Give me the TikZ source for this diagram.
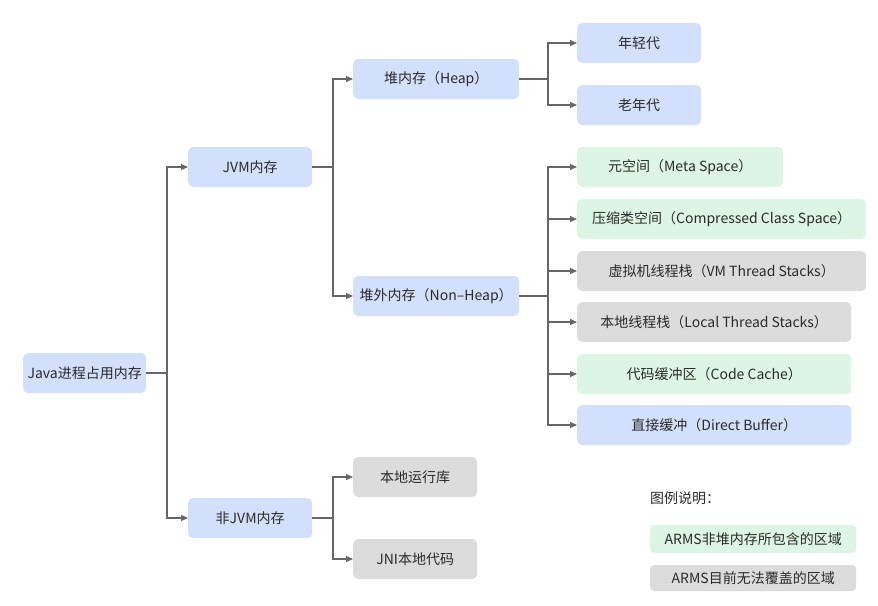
\documentclass[tikz,border=0pt]{standalone}
\usepackage{fontspec}
\setmainfont{Noto Sans CJK SC}
\usetikzlibrary{arrows.meta}
\definecolor{bluebox}{HTML}{D3E0FC}
\definecolor{greenbox}{HTML}{DCF5E4}
\definecolor{graybox}{HTML}{DCDCDC}
\definecolor{txt}{HTML}{2A2A2A}
\definecolor{ln}{HTML}{666666}
\tikzset{
  box/.style={rounded corners=5pt, minimum height=40pt, inner sep=0pt, text=txt, font=\fontsize{14}{16}\selectfont, anchor=west},
  bl/.style={box, fill=bluebox},
  gr/.style={box, fill=greenbox},
  gy/.style={box, fill=graybox},
  conn/.style={draw=ln, line width=1.1pt, -{Triangle[length=7pt,width=6pt]}},
  plain/.style={draw=ln, line width=1.1pt},
}
\begin{document}
\begin{tikzpicture}[x=1pt,y=-1pt]
\useasboundingbox (0,0) rectangle (878,605);
% level 0
\node[bl, minimum width=123pt] (root) at (23,373) {Java进程占用内存};
% level 1
\node[bl, minimum width=124pt] (jvm) at (188,167) {JVM内存};
\node[bl, minimum width=124pt] (nonjvm) at (188,518) {非JVM内存};
% level 2
\node[bl, minimum width=166pt] (heap) at (353,79) {堆内存（Heap）};
\node[bl, minimum width=166pt] (nonheap) at (353,296) {堆外内存（Non–Heap）};
\node[gy, minimum width=124pt] (native) at (353,477) {本地运行库};
\node[gy, minimum width=124pt] (jni) at (353,559) {JNI本地代码};
% level 3
\node[bl, minimum width=124pt] (young) at (577,43) {年轻代};
\node[bl, minimum width=124pt] (old) at (577,105) {老年代};
\node[gr, minimum width=206pt] (meta) at (577,167) {元空间（Meta Space）};
\node[gr, minimum width=289pt] (ccs) at (577,219) {压缩类空间（Compressed Class Space）};
\node[gy, minimum width=289pt] (vmts) at (577,271) {虚拟机线程栈（VM Thread Stacks）};
\node[gy, minimum width=274pt] (lts) at (577,322) {本地线程栈（Local Thread Stacks）};
\node[gr, minimum width=274pt] (cc) at (577,374) {代码缓冲区（Code Cache）};
\node[bl, minimum width=274pt] (db) at (577,425) {直接缓冲（Direct Buffer）};
% legend
\node[anchor=west, text=txt, font=\fontsize{14}{16}\selectfont, inner sep=0pt] (legtitle) at (650,498) {图例说明：};
\node[gr, minimum width=206pt, minimum height=28pt, rounded corners=4pt] (leg1) at (650,539) {ARMS非堆内存所包含的区域};
\node[gy, minimum width=206pt, minimum height=26pt, rounded corners=4pt] (leg2) at (650,578) {ARMS目前无法覆盖的区域};
% connectors
\coordinate (t0) at (167,373);
\draw[plain] (root.east) -- (t0);
\draw[conn] (t0) |- (jvm.west);
\draw[conn] (t0) |- (nonjvm.west);
\coordinate (t1) at (333,167);
\draw[plain] (jvm.east) -- (t1);
\draw[conn] (t1) |- (heap.west);
\draw[conn] (t1) |- (nonheap.west);
\coordinate (t2) at (333,518);
\draw[plain] (nonjvm.east) -- (t2);
\draw[conn] (t2) |- (native.west);
\draw[conn] (t2) |- (jni.west);
\coordinate (t3) at (548,79);
\draw[plain] (heap.east) -- (t3);
\draw[conn] (t3) |- (young.west);
\draw[conn] (t3) |- (old.west);
\coordinate (t4) at (548,296);
\draw[plain] (nonheap.east) -- (t4);
\foreach \n in {meta,ccs,vmts,lts,cc,db}{\draw[conn] (t4) |- (\n.west);}
\end{tikzpicture}
\end{document}
